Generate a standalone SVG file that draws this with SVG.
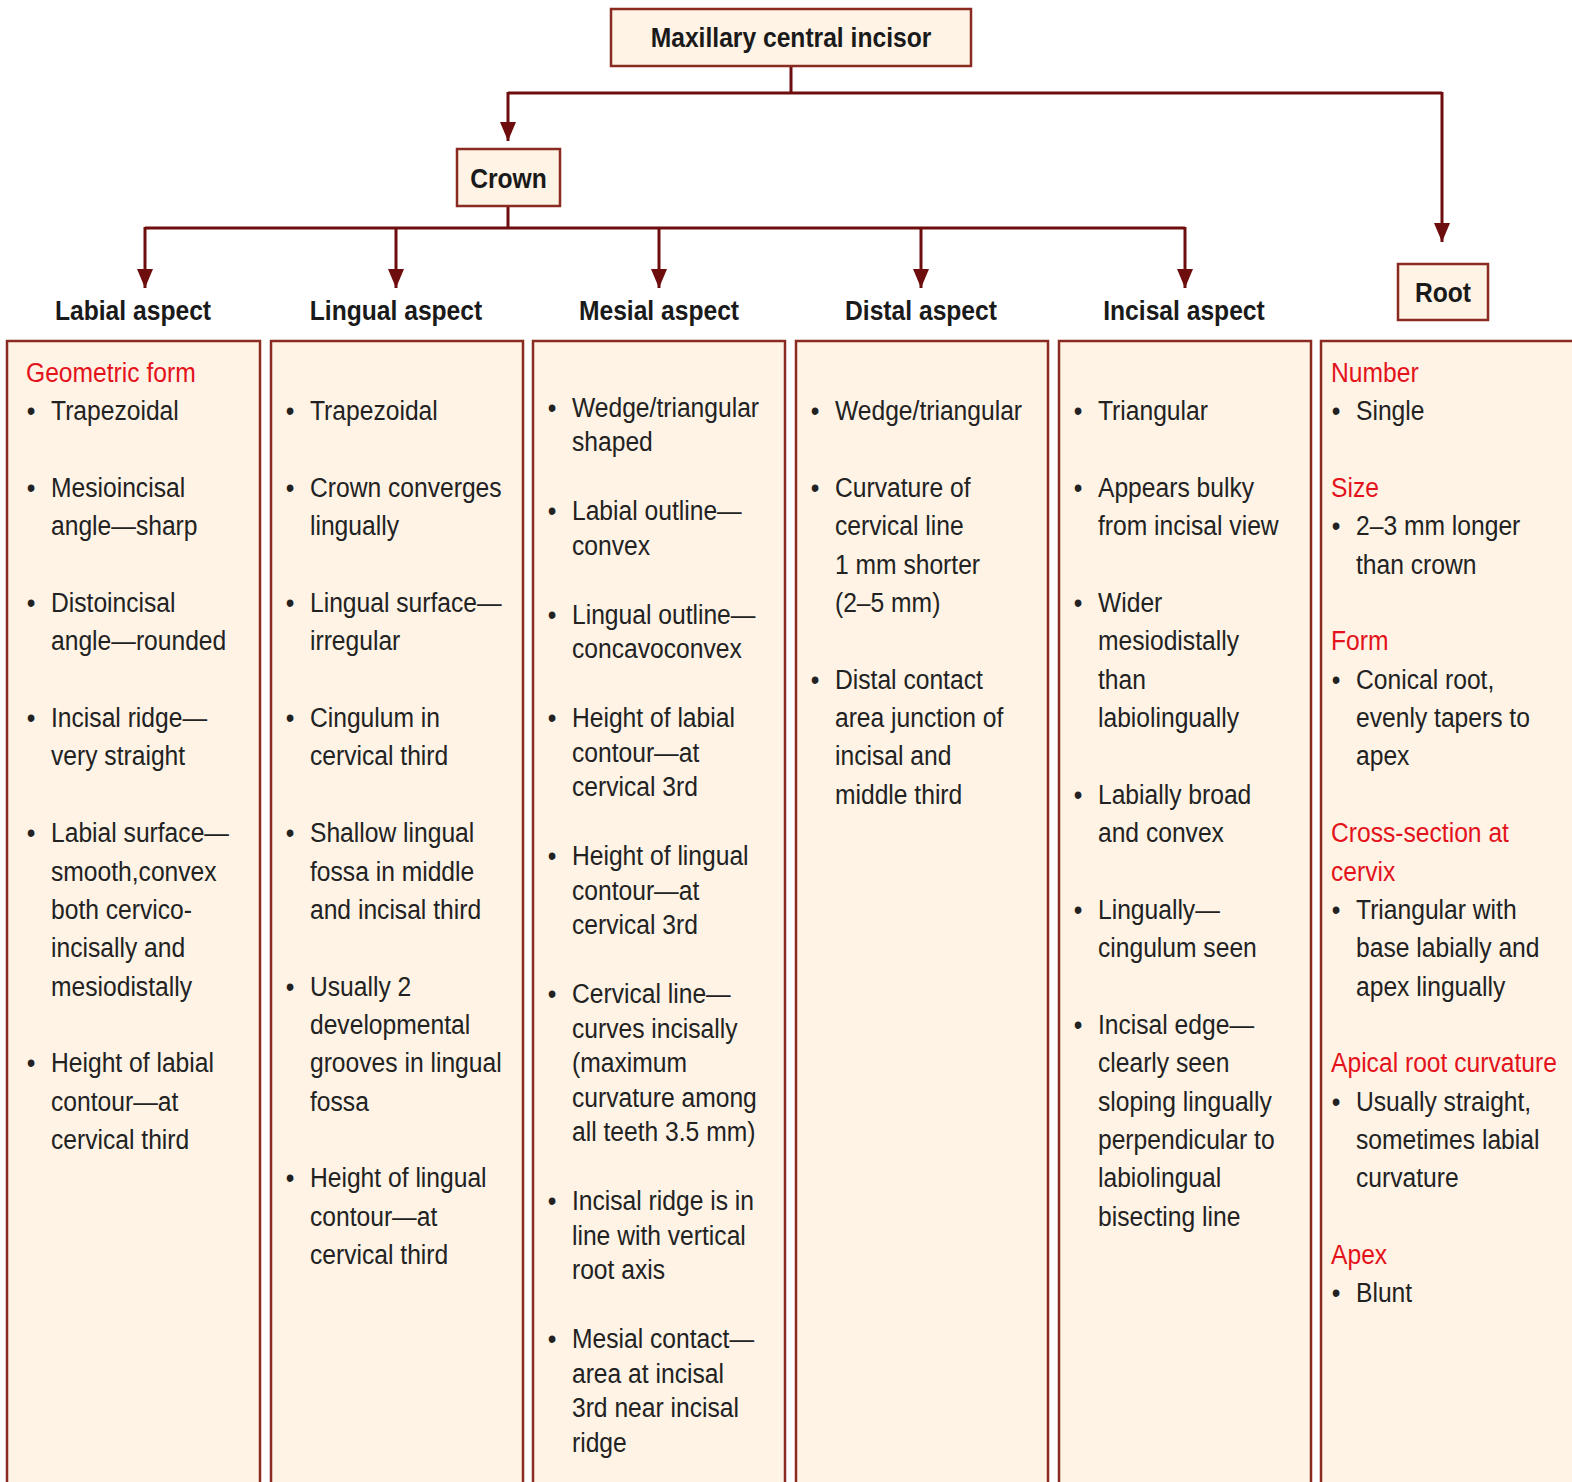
<svg xmlns="http://www.w3.org/2000/svg" width="1572" height="1482" viewBox="0 0 1572 1482">
<style>
.box{fill:#fef3e5;stroke:#8a2b22;stroke-width:2.5}
.t{font-family:"Liberation Sans",Arial,Helvetica,sans-serif;font-size:28px;fill:#222}
.r{fill:#e3121b}
.b{font-weight:bold;fill:#1a1a1a}
.bu{text-anchor:middle}
.conn{stroke:#6e0d0d;stroke-width:3;fill:none}
</style>
<defs>
<marker id="ah" markerUnits="userSpaceOnUse" markerWidth="19" markerHeight="16" refX="19" refY="8" orient="auto">
<path d="M0,0 L19,8 L0,16 z" fill="#6e0d0d"/>
</marker>
</defs>
<rect width="1572" height="1482" fill="#ffffff"/>

<g id="connectors">
<path class="conn" d="M791,66 V93"/>
<path class="conn" d="M508,93 H1442"/>
<path class="conn" d="M508,92 V141" marker-end="url(#ah)"/>
<path class="conn" d="M1442,92 V242" marker-end="url(#ah)"/>
<path class="conn" d="M508,206 V228"/>
<path class="conn" d="M145,228 H1185"/>
<path class="conn" d="M145,227 V288" marker-end="url(#ah)"/>
<path class="conn" d="M396,227 V288" marker-end="url(#ah)"/>
<path class="conn" d="M659,227 V288" marker-end="url(#ah)"/>
<path class="conn" d="M921,227 V288" marker-end="url(#ah)"/>
<path class="conn" d="M1185,227 V288" marker-end="url(#ah)"/>
</g>

<g id="node-maxillary">
<rect class="box" x="611" y="9" width="360" height="57"/>
<text class="t b" text-anchor="middle" transform="translate(791,47) scale(0.88,1)">Maxillary central incisor</text>
</g>

<g id="node-crown">
<rect class="box" x="457" y="149" width="103" height="57"/>
<text class="t b" text-anchor="middle" transform="translate(508.5,187.5) scale(0.88,1)">Crown</text>
</g>

<g id="node-root">
<rect class="box" x="1398" y="264" width="90" height="56"/>
<text class="t b" text-anchor="middle" transform="translate(1443,302) scale(0.88,1)">Root</text>
</g>

<g id="node-labial">
<text class="t b" text-anchor="middle" transform="translate(133,320) scale(0.88,1)">Labial aspect</text>
<rect class="box" x="7" y="341" width="253" height="1150"/>
<g transform="translate(7,0) scale(0.88,1)">
<text class="t r" x="21.6" y="382">Geometric form</text>
<text class="t bu" x="27.3" y="420.4">•</text><text class="t" x="50" y="420.4">Trapezoidal</text>
<text class="t bu" x="27.3" y="497.1">•</text><text class="t" x="50" y="497.1">Mesioincisal</text>
<text class="t" x="50" y="535.4">angle—sharp</text>
<text class="t bu" x="27.3" y="612.1">•</text><text class="t" x="50" y="612.1">Distoincisal</text>
<text class="t" x="50" y="650.5">angle—rounded</text>
<text class="t bu" x="27.3" y="727.2">•</text><text class="t" x="50" y="727.2">Incisal ridge—</text>
<text class="t" x="50" y="765.5">very straight</text>
<text class="t bu" x="27.3" y="842.2">•</text><text class="t" x="50" y="842.2">Labial surface—</text>
<text class="t" x="50" y="880.6">smooth,convex</text>
<text class="t" x="50" y="918.9">both cervico-</text>
<text class="t" x="50" y="957.3">incisally and</text>
<text class="t" x="50" y="995.6">mesiodistally</text>
<text class="t bu" x="27.3" y="1072.3">•</text><text class="t" x="50" y="1072.3">Height of labial</text>
<text class="t" x="50" y="1110.7">contour—at</text>
<text class="t" x="50" y="1149">cervical third</text>
</g>
</g>

<g id="node-lingual">
<text class="t b" text-anchor="middle" transform="translate(396,320) scale(0.88,1)">Lingual aspect</text>
<rect class="box" x="271" y="341" width="252" height="1150"/>
<g transform="translate(271,0) scale(0.88,1)">
<text class="t bu" x="21.6" y="420.4">•</text><text class="t" x="44.3" y="420.4">Trapezoidal</text>
<text class="t bu" x="21.6" y="497.1">•</text><text class="t" x="44.3" y="497.1">Crown converges</text>
<text class="t" x="44.3" y="535.4">lingually</text>
<text class="t bu" x="21.6" y="612.1">•</text><text class="t" x="44.3" y="612.1">Lingual surface—</text>
<text class="t" x="44.3" y="650.5">irregular</text>
<text class="t bu" x="21.6" y="727.2">•</text><text class="t" x="44.3" y="727.2">Cingulum in</text>
<text class="t" x="44.3" y="765.5">cervical third</text>
<text class="t bu" x="21.6" y="842.2">•</text><text class="t" x="44.3" y="842.2">Shallow lingual</text>
<text class="t" x="44.3" y="880.6">fossa in middle</text>
<text class="t" x="44.3" y="918.9">and incisal third</text>
<text class="t bu" x="21.6" y="995.6">•</text><text class="t" x="44.3" y="995.6">Usually 2</text>
<text class="t" x="44.3" y="1034">developmental</text>
<text class="t" x="44.3" y="1072.3">grooves in lingual</text>
<text class="t" x="44.3" y="1110.7">fossa</text>
<text class="t bu" x="21.6" y="1187.4">•</text><text class="t" x="44.3" y="1187.4">Height of lingual</text>
<text class="t" x="44.3" y="1225.7">contour—at</text>
<text class="t" x="44.3" y="1264.1">cervical third</text>
</g>
</g>

<g id="node-mesial">
<text class="t b" text-anchor="middle" transform="translate(659,320) scale(0.88,1)">Mesial aspect</text>
<rect class="box" x="533" y="341" width="252" height="1150"/>
<g transform="translate(533,0) scale(0.88,1)">
<text class="t bu" x="21.6" y="417">•</text><text class="t" x="44.3" y="417">Wedge/triangular</text>
<text class="t" x="44.3" y="451.5">shaped</text>
<text class="t bu" x="21.6" y="520.5">•</text><text class="t" x="44.3" y="520.5">Labial outline—</text>
<text class="t" x="44.3" y="555">convex</text>
<text class="t bu" x="21.6" y="624">•</text><text class="t" x="44.3" y="624">Lingual outline—</text>
<text class="t" x="44.3" y="658.5">concavoconvex</text>
<text class="t bu" x="21.6" y="727.5">•</text><text class="t" x="44.3" y="727.5">Height of labial</text>
<text class="t" x="44.3" y="762">contour—at</text>
<text class="t" x="44.3" y="796.5">cervical 3rd</text>
<text class="t bu" x="21.6" y="865.5">•</text><text class="t" x="44.3" y="865.5">Height of lingual</text>
<text class="t" x="44.3" y="900">contour—at</text>
<text class="t" x="44.3" y="934.5">cervical 3rd</text>
<text class="t bu" x="21.6" y="1003.5">•</text><text class="t" x="44.3" y="1003.5">Cervical line—</text>
<text class="t" x="44.3" y="1038">curves incisally</text>
<text class="t" x="44.3" y="1072.5">(maximum</text>
<text class="t" x="44.3" y="1107">curvature among</text>
<text class="t" x="44.3" y="1141.5">all teeth 3.5 mm)</text>
<text class="t bu" x="21.6" y="1210.5">•</text><text class="t" x="44.3" y="1210.5">Incisal ridge is in</text>
<text class="t" x="44.3" y="1245">line with vertical</text>
<text class="t" x="44.3" y="1279.5">root axis</text>
<text class="t bu" x="21.6" y="1348.5">•</text><text class="t" x="44.3" y="1348.5">Mesial contact—</text>
<text class="t" x="44.3" y="1383">area at incisal</text>
<text class="t" x="44.3" y="1417.5">3rd near incisal</text>
<text class="t" x="44.3" y="1452">ridge</text>
</g>
</g>

<g id="node-distal">
<text class="t b" text-anchor="middle" transform="translate(921,320) scale(0.88,1)">Distal aspect</text>
<rect class="box" x="796" y="341" width="252" height="1150"/>
<g transform="translate(796,0) scale(0.88,1)">
<text class="t bu" x="21.6" y="420.4">•</text><text class="t" x="44.3" y="420.4">Wedge/triangular</text>
<text class="t bu" x="21.6" y="497.1">•</text><text class="t" x="44.3" y="497.1">Curvature of</text>
<text class="t" x="44.3" y="535.4">cervical line</text>
<text class="t" x="44.3" y="573.8">1 mm shorter</text>
<text class="t" x="44.3" y="612.1">(2–5 mm)</text>
<text class="t bu" x="21.6" y="688.8">•</text><text class="t" x="44.3" y="688.8">Distal contact</text>
<text class="t" x="44.3" y="727.2">area junction of</text>
<text class="t" x="44.3" y="765.5">incisal and</text>
<text class="t" x="44.3" y="803.9">middle third</text>
</g>
</g>

<g id="node-incisal">
<text class="t b" text-anchor="middle" transform="translate(1184,320) scale(0.88,1)">Incisal aspect</text>
<rect class="box" x="1059" y="341" width="252" height="1150"/>
<g transform="translate(1059,0) scale(0.88,1)">
<text class="t bu" x="21.6" y="420.4">•</text><text class="t" x="44.3" y="420.4">Triangular</text>
<text class="t bu" x="21.6" y="497.1">•</text><text class="t" x="44.3" y="497.1">Appears bulky</text>
<text class="t" x="44.3" y="535.4">from incisal view</text>
<text class="t bu" x="21.6" y="612.1">•</text><text class="t" x="44.3" y="612.1">Wider</text>
<text class="t" x="44.3" y="650.5">mesiodistally</text>
<text class="t" x="44.3" y="688.8">than</text>
<text class="t" x="44.3" y="727.2">labiolingually</text>
<text class="t bu" x="21.6" y="803.9">•</text><text class="t" x="44.3" y="803.9">Labially broad</text>
<text class="t" x="44.3" y="842.2">and convex</text>
<text class="t bu" x="21.6" y="918.9">•</text><text class="t" x="44.3" y="918.9">Lingually—</text>
<text class="t" x="44.3" y="957.3">cingulum seen</text>
<text class="t bu" x="21.6" y="1034">•</text><text class="t" x="44.3" y="1034">Incisal edge—</text>
<text class="t" x="44.3" y="1072.3">clearly seen</text>
<text class="t" x="44.3" y="1110.7">sloping lingually</text>
<text class="t" x="44.3" y="1149">perpendicular to</text>
<text class="t" x="44.3" y="1187.4">labiolingual</text>
<text class="t" x="44.3" y="1225.7">bisecting line</text>
</g>
</g>

<g id="node-root-details">
<rect class="box" x="1321" y="341" width="270" height="1150"/>
<g transform="translate(1321,0) scale(0.88,1)">
<text class="t r" x="11.4" y="382">Number</text>
<text class="t bu" x="17" y="420.4">•</text><text class="t" x="39.8" y="420.4">Single</text>
<text class="t r" x="11.4" y="497.1">Size</text>
<text class="t bu" x="17" y="535.4">•</text><text class="t" x="39.8" y="535.4">2–3 mm longer</text>
<text class="t" x="39.8" y="573.8">than crown</text>
<text class="t r" x="11.4" y="650.5">Form</text>
<text class="t bu" x="17" y="688.8">•</text><text class="t" x="39.8" y="688.8">Conical root,</text>
<text class="t" x="39.8" y="727.2">evenly tapers to</text>
<text class="t" x="39.8" y="765.5">apex</text>
<text class="t r" x="11.4" y="842.2">Cross-section at</text>
<text class="t r" x="11.4" y="880.6">cervix</text>
<text class="t bu" x="17" y="918.9">•</text><text class="t" x="39.8" y="918.9">Triangular with</text>
<text class="t" x="39.8" y="957.3">base labially and</text>
<text class="t" x="39.8" y="995.6">apex lingually</text>
<text class="t r" x="11.4" y="1072.3">Apical root curvature</text>
<text class="t bu" x="17" y="1110.7">•</text><text class="t" x="39.8" y="1110.7">Usually straight,</text>
<text class="t" x="39.8" y="1149">sometimes labial</text>
<text class="t" x="39.8" y="1187.4">curvature</text>
<text class="t r" x="11.4" y="1264.1">Apex</text>
<text class="t bu" x="17" y="1302.4">•</text><text class="t" x="39.8" y="1302.4">Blunt</text>
</g>
</g>
</svg>
